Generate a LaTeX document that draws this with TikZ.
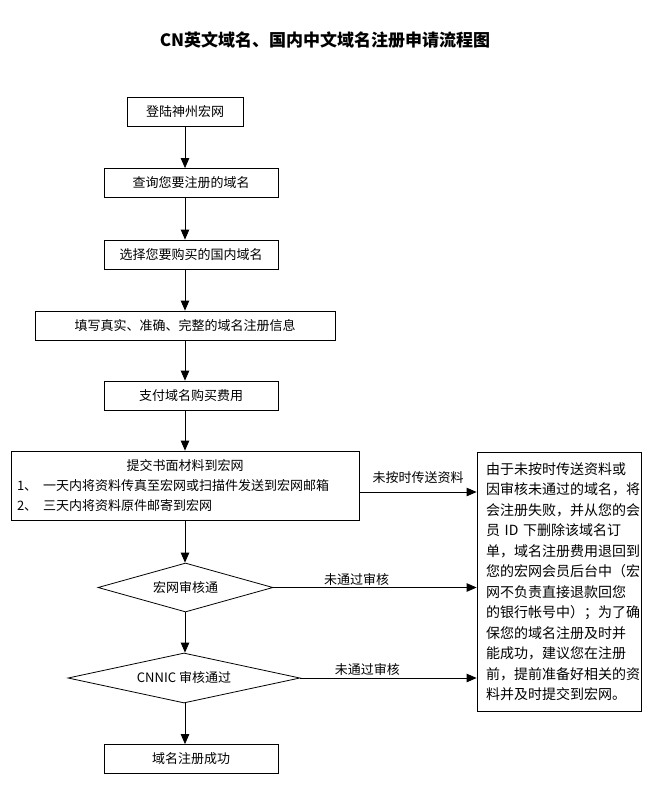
\documentclass[tikz,border=0pt]{standalone}
\usepackage{fontspec}
\setmainfont{Noto Sans CJK SC}
\usetikzlibrary{arrows.meta, positioning, shapes.geometric, calc}
\tikzset{
  every picture/.style={line width=0.8pt, x=1pt, y=-1pt},
  box/.style={draw, minimum height=29pt, inner sep=0pt, font=\fontsize{13}{20}\selectfont},
  decide/.style={draw, diamond, inner sep=0pt, font=\fontsize{13}{16}\selectfont},
  arrow/.style={-{Triangle[length=10pt, width=8.5pt]}},
  note/.style={font=\fontsize{13}{16}\selectfont, inner sep=2pt},
  title/.style={font=\fontsize{17}{20}\selectfont\bfseries},
}

\begin{document}
\begin{tikzpicture}
  \useasboundingbox (0,0) rectangle (650,800);
  \node[title] (head) at (325,40) {CN英文域名、国内中文域名注册申请流程图};
  \coordinate (axis) at (185,0);

  \node[box, minimum width=116pt] (login) at (185,112) {登陆神州宏网};
  \node[box, minimum width=174pt] (query) at (191,183) {查询您要注册的域名};
  \node[box, minimum width=174pt] (choose) at (191,254.5) {选择您要购买的国内域名};
  \node[box, minimum width=300pt] (fill) at (185,325.5) {填写真实、准确、完整的域名注册信息};
  \node[box, minimum width=174pt] (pay) at (191,395.5) {支付域名购买费用};
  \node[box, minimum width=348pt, minimum height=69pt, align=center] (submit) at (185,485.5)
    {提交书面材料到宏网\\
     \makebox[336pt][l]{1、\hspace{6pt}一天内将资料传真至宏网或扫描件发送到宏网邮箱}\\
     \makebox[336pt][l]{2、\hspace{6pt}三天内将资料原件邮寄到宏网}};
  \node[decide, aspect=3.57, minimum width=175pt, minimum height=49pt] (check) at (185.5,587.5) {宏网审核通};
  \node[decide, aspect=4.64, minimum width=232pt, minimum height=50pt] (cnnic) at (184,678) {CNNIC 审核通过};
  \node[box, minimum width=174pt] (done) at (191,759) {域名注册成功};

  % failure notice on the right
  \node[draw, minimum width=164pt, minimum height=259pt, inner xsep=9pt, inner ysep=0pt,
        text width=146pt, align=left, font=\fontsize{14}{20.5}\selectfont] (fail) at (559,581.5)
    {由于未按时传送资料或\\
     因审核未通过的域名，将\\
     会注册失败，并从您的会\\
     员 ID 下删除该域名订\\
     单，域名注册费用退回到\\
     您的宏网会员后台中（宏\\
     网不负责直接退款回您\\
     的银行帐号中）；为了确\\
     保您的域名注册及时并\\
     能成功，建议您在注册\\
     前，提前准备好相关的资\\
     料并及时提交到宏网。};

  \draw[arrow] (login) -- (login.south |- query.north);
  \draw[arrow] (axis |- query.south) -- (axis |- choose.north);
  \draw[arrow] (axis |- choose.south) -- (axis |- fill.north);
  \draw[arrow] (axis |- fill.south) -- (axis |- pay.north);
  \draw[arrow] (axis |- pay.south) -- (axis |- submit.north);
  \draw[arrow] (axis |- submit.south) -- (axis |- check.north);
  \draw[arrow] (axis |- check.south) -- (axis |- cnnic.north);
  \draw[arrow] (axis |- cnnic.south) -- (axis |- done.north);

  \draw[arrow] ([yshift=-6.5pt]submit.east) -- node[note, above, yshift=6pt] {未按时传送资料}
    ([yshift=-6.5pt]submit.east -| fail.west);
  \draw[arrow] (check.east) -- node[note, above, pos=0.41] {未通过审核} (check.east -| fail.west);
  \draw[arrow] (cnnic.east) -- node[note, above, pos=0.38] {未通过审核} (cnnic.east -| fail.west);
\end{tikzpicture}
\end{document}
